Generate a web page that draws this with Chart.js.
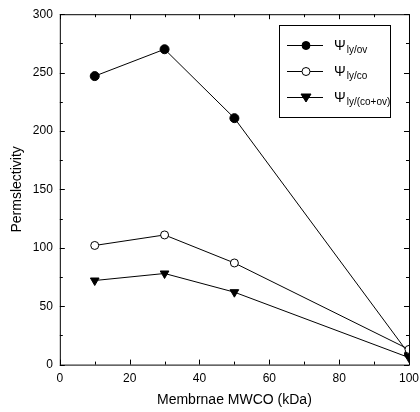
<!DOCTYPE html>
<html>
<head>
<meta charset="utf-8">
<script src="https://cdn.jsdelivr.net/npm/chart.js@4"></script>
<style>
  html, body { margin: 0; padding: 0; background: #fff; overflow: hidden; }
  #wrap { width: 426px; height: 412px; }
</style>
</head>
<body>
<div id="wrap"><canvas id="c" width="426" height="412"></canvas></div>
<script>
// --- données ---
const mwco = [10, 30, 50, 100];
const psiOv = [247, 270, 211, 9];
const psiCo = [102, 111, 87, 13];
const psiCoOv = [72, 78, 62, 6];

const legendItems = [
  { sub: 'ly/ov', style: 'circle', fill: '#000' },
  { sub: 'ly/co', style: 'circle', fill: '#fff' },
  { sub: 'ly/(co+ov)', style: 'triangle', fill: '#000' }
];

const FONT = '"Liberation Sans", Arial, sans-serif';

// ticks internes + cadre complet
const frameTicks = {
  id: 'frameTicks',
  afterDraw(chart) {
    const { ctx, chartArea: a, scales: { x, y } } = chart;
    ctx.save();
    ctx.strokeStyle = '#000';
    ctx.lineWidth = 1;
    ctx.strokeRect(a.left + 0.5, a.top + 0.5, a.right - a.left, a.bottom - a.top);
    ctx.beginPath();
    for (let v = 0; v <= 100; v += 10) {
      const px = Math.round(x.getPixelForValue(v)) + 0.5;
      const len = v % 20 === 0 ? 5 : 3;
      ctx.moveTo(px, a.bottom); ctx.lineTo(px, a.bottom - len);
      ctx.moveTo(px, a.top); ctx.lineTo(px, a.top + len);
    }
    for (let v = 0; v <= 300; v += 25) {
      const py = Math.round(y.getPixelForValue(v)) + 0.5;
      const len = v % 50 === 0 ? 5 : 3;
      ctx.moveTo(a.left, py); ctx.lineTo(a.left + len, py);
      ctx.moveTo(a.right, py); ctx.lineTo(a.right - len, py);
    }
    ctx.stroke();
    ctx.restore();
  }
};

// légende avec indices (Ψ_ly/ov ...)
const subLegend = {
  id: 'subLegend',
  afterDraw(chart) {
    const ctx = chart.ctx;
    const bx = 279, by = 25, bw = 111, bh = 92;
    ctx.save();
    ctx.fillStyle = '#fff';
    ctx.fillRect(bx, by, bw, bh);
    ctx.strokeStyle = '#000';
    ctx.lineWidth = 1;
    ctx.strokeRect(bx + 0.5, by + 0.5, bw, bh);
    legendItems.forEach((it, i) => {
      const cy = 45 + i * 26;
      ctx.beginPath();
      ctx.moveTo(287, cy + 0.5); ctx.lineTo(323, cy + 0.5);
      ctx.stroke();
      ctx.beginPath();
      if (it.style === 'circle') {
        ctx.arc(306, cy + 0.5, 4, 0, Math.PI * 2);
      } else {
        ctx.moveTo(301, cy - 3); ctx.lineTo(311, cy - 3); ctx.lineTo(306, cy + 5);
        ctx.closePath();
      }
      ctx.fillStyle = it.fill;
      ctx.fill();
      ctx.stroke();
      ctx.fillStyle = '#000';
      ctx.textBaseline = 'alphabetic';
      ctx.font = '14px ' + FONT;
      ctx.fillText('\u03A8', 334, cy + 5);
      const w = ctx.measureText('\u03A8').width;
      ctx.font = '10px ' + FONT;
      ctx.fillText(it.sub, 334 + w + 1, cy + 8);
    });
    ctx.restore();
  }
};

const common = { borderColor: '#000', borderWidth: 1, pointBorderColor: '#000', pointBorderWidth: 1, tension: 0 };

new Chart(document.getElementById('c'), {
  type: 'line',
  data: {
    labels: mwco,
    datasets: [
      { ...common, label: 'ov', data: psiOv, pointStyle: 'circle', pointRadius: 4.5, pointBackgroundColor: '#000', order: 3 },
      { ...common, label: 'co', data: psiCo, pointStyle: 'circle', pointRadius: 4, pointBackgroundColor: '#fff', order: 2 },
      { ...common, label: 'co+ov', data: psiCoOv, pointStyle: 'triangle', pointRotation: 180, pointRadius: 5, pointBackgroundColor: '#000', order: 1 }
    ]
  },
  options: {
    responsive: false,
    animation: false,
    layout: { padding: { left: 0, top: 7, right: 0, bottom: 0 } },
    plugins: { legend: { display: false }, tooltip: { enabled: false } },
    scales: {
      x: {
        type: 'linear', min: 0, max: 100,
        grid: { display: false, drawTicks: false },
        border: { display: false },
        ticks: { stepSize: 20, color: '#000', font: { family: FONT, size: 12 }, padding: 7 },
        title: { display: true, text: 'Membrnae MWCO (kDa)', color: '#000', font: { family: FONT, size: 14, lineHeight: 1 }, padding: { top: 0, bottom: 5 } }
      },
      y: {
        min: 0, max: 300,
        grid: { display: false, drawTicks: false },
        border: { display: false },
        ticks: { stepSize: 50, color: '#000', font: { family: FONT, size: 12 }, padding: 7 },
        title: { display: true, text: 'Permslectivity', color: '#000', font: { family: FONT, size: 14 }, padding: { top: 9, bottom: 0 } }
      }
    }
  },
  plugins: [frameTicks, subLegend]
});
</script>
</body>
</html>
